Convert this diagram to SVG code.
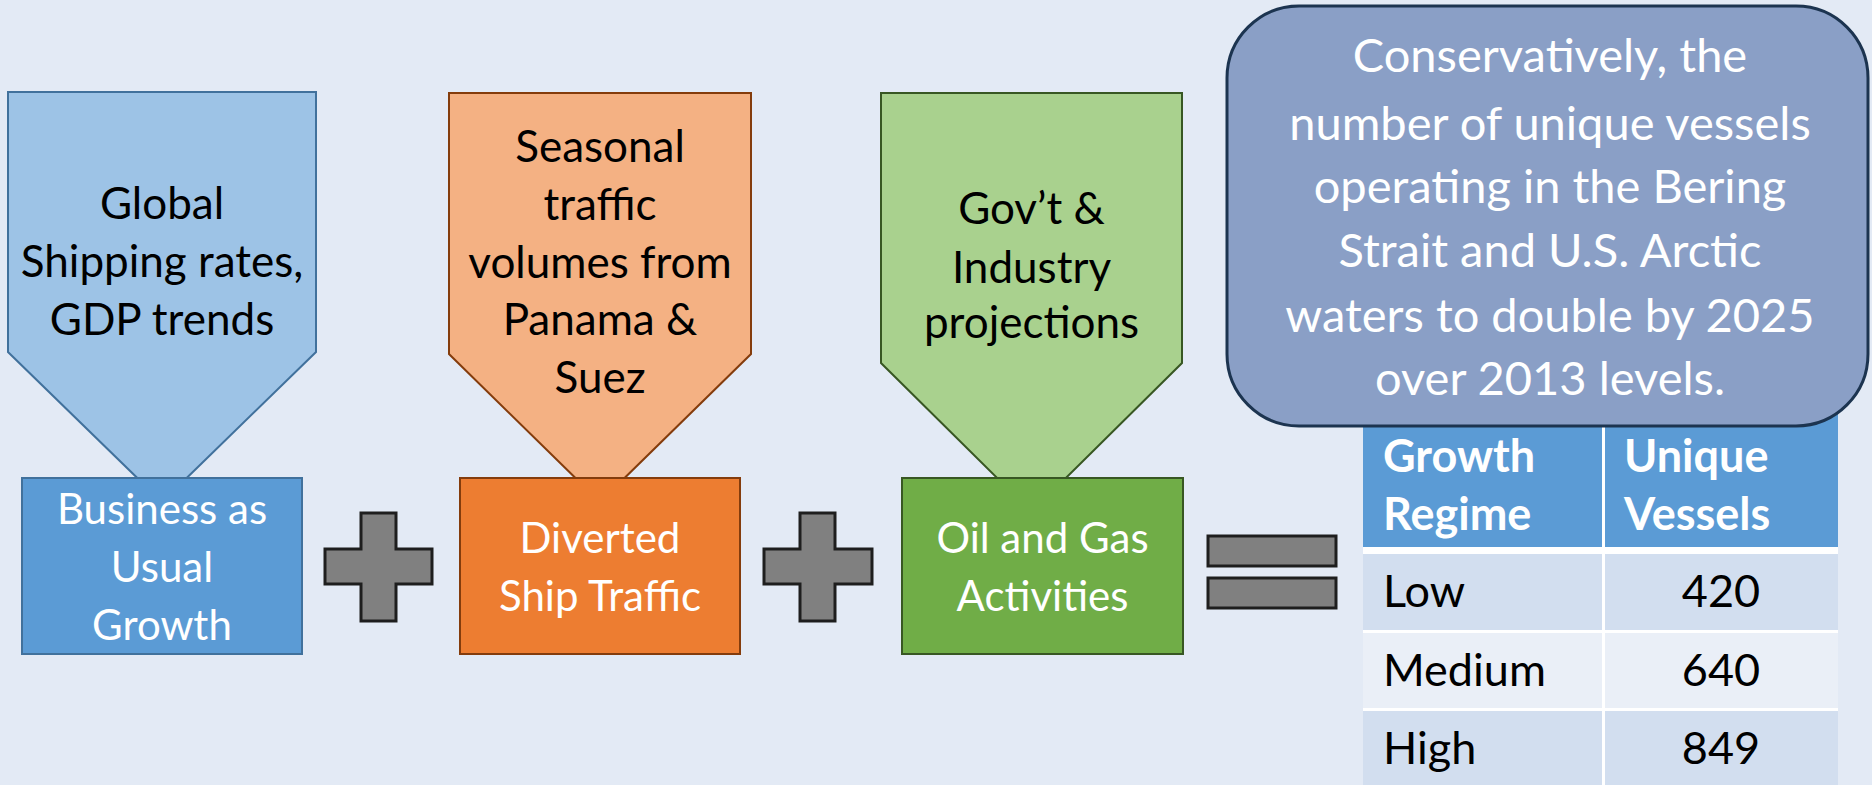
<svg xmlns="http://www.w3.org/2000/svg" width="1872" height="785" viewBox="0 0 1872 785">
<style>
.bg{fill:#e3eaf5}
.t{font-family:Lato,"Open Sans","Liberation Sans",sans-serif;text-anchor:middle}
.dark{fill:#000}
.wht{fill:#fff}
.op{fill:#808080;stroke:#1e1e1e;stroke-width:3}
.tbl{font-family:Lato,"Open Sans","Liberation Sans",sans-serif;font-size:45px}
</style>
<rect class="bg" x="0" y="0" width="1872" height="785"/>

<g id="bau-input">
<polygon points="8,92 316,92 316,352 162,502 8,352" fill="#9dc3e6" stroke="#41719c" stroke-width="2"/>
<text class="t dark" font-size="44" x="162" y="219">Global</text>
<text class="t dark" font-size="44" x="162" y="277">Shipping rates,</text>
<text class="t dark" font-size="44" x="162" y="335">GDP trends</text>
</g>
<g id="bau">
<rect x="22" y="478" width="280" height="176" fill="#5b9bd5" stroke="#41719c" stroke-width="2"/>
<text class="t wht" font-size="42" x="162" y="524">Business as</text>
<text class="t wht" font-size="42" x="162" y="582">Usual</text>
<text class="t wht" font-size="42" x="162" y="640">Growth</text>
</g>

<g id="diverted-input">
<polygon points="449,93 751,93 751,354 600,502 449,354" fill="#f4b183" stroke="#843c0c" stroke-width="2"/>
<text class="t dark" font-size="44" x="600" y="162">Seasonal</text>
<text class="t dark" font-size="44" x="600" y="220">traffic</text>
<text class="t dark" font-size="44" x="600" y="278">volumes from</text>
<text class="t dark" font-size="44" x="600" y="335">Panama &amp;</text>
<text class="t dark" font-size="44" x="600" y="393">Suez</text>
</g>
<g id="diverted">
<rect x="460" y="478" width="280" height="176" fill="#ed7d31" stroke="#843c0c" stroke-width="2"/>
<text class="t wht" font-size="42" x="600" y="553">Diverted</text>
<text class="t wht" font-size="42" x="600" y="611">Ship Traffic</text>
</g>

<g id="oilgas-input">
<polygon points="881,93 1182,93 1182,363 1031.5,512 881,363" fill="#a9d18e" stroke="#385723" stroke-width="2"/>
<text class="t dark" font-size="44" x="1031.5" y="224">Gov’t &amp;</text>
<text class="t dark" font-size="44" x="1031.5" y="283">Industry</text>
<text class="t dark" font-size="44" x="1031.5" y="338">projections</text>
</g>
<g id="oilgas">
<rect x="902" y="478" width="281" height="176" fill="#70ad47" stroke="#385723" stroke-width="2"/>
<text class="t wht" font-size="42" x="1042.5" y="553">Oil and Gas</text>
<text class="t wht" font-size="42" x="1042.5" y="611">Activities</text>
</g>

<g id="operators">
<g id="plus1"><path class="op" d="M361,513 H396 V549 H432 V584 H396 V621 H361 V584 H325 V549 H361 Z"/></g>
<g id="plus2"><path class="op" d="M800,513 H835 V549 H872 V584 H835 V621 H800 V584 H764 V549 H800 Z"/></g>
<g id="equals">
<rect class="op" x="1208" y="536" width="128" height="30"/>
<rect class="op" x="1208" y="578" width="128" height="30"/>
</g>
</g>

<g id="table">
<rect x="1363" y="405" width="475" height="142" fill="#5b9bd5"/>
<rect x="1363" y="554" width="475" height="76" fill="#d2deef"/>
<rect x="1363" y="633" width="475" height="75" fill="#eaeff7"/>
<rect x="1363" y="711" width="475" height="80" fill="#d2deef"/>
<rect x="1602" y="405" width="3" height="385" fill="#ffffff"/>
<rect x="1363" y="547" width="475" height="7" fill="#ffffff"/>
<rect x="1363" y="630" width="475" height="3" fill="#ffffff"/>
<rect x="1363" y="708" width="475" height="3" fill="#ffffff"/>
<text class="tbl wht" font-weight="bold" x="1383" y="472">Growth</text>
<text class="tbl wht" font-weight="bold" x="1383" y="530">Regime</text>
<text class="tbl wht" font-weight="bold" x="1624" y="472">Unique</text>
<text class="tbl wht" font-weight="bold" x="1624" y="530">Vessels</text>
<text class="tbl dark" x="1383" y="607">Low</text>
<text class="tbl dark" x="1383" y="686">Medium</text>
<text class="tbl dark" x="1383" y="764">High</text>
<text class="tbl dark" text-anchor="middle" x="1721" y="607">420</text>
<text class="tbl dark" text-anchor="middle" x="1721" y="686">640</text>
<text class="tbl dark" text-anchor="middle" x="1721" y="764">849</text>
</g>

<g id="callout">
<rect x="1227" y="6" width="641" height="420" rx="72" ry="72" fill="#8a9fc6" stroke="#1c3450" stroke-width="3"/>
<g class="t wht" font-size="47">
<text x="1550" y="72">Conservatively, the</text>
<text x="1550" y="140">number of unique vessels</text>
<text x="1550" y="203">operating in the Bering</text>
<text x="1550" y="267">Strait and U.S. Arctic</text>
<text x="1550" y="332">waters to double by 2025</text>
<text x="1550" y="395">over 2013 levels.</text>
</g>
</g>
</svg>
